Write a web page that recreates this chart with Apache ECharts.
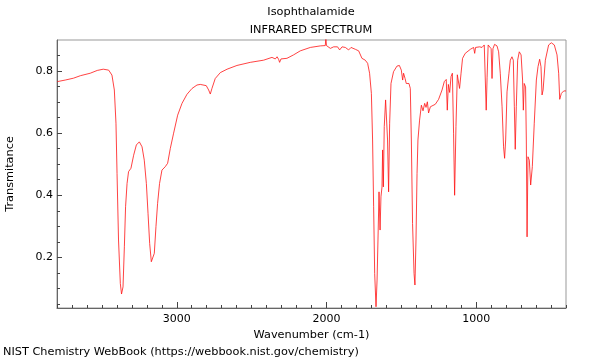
<!DOCTYPE html>
<html>
<head>
<meta charset="utf-8">
<script src="https://cdn.jsdelivr.net/npm/echarts@6/dist/echarts.min.js"></script>
<style>html,body{margin:0;padding:0;background:#fff;}#c{width:600px;height:360px;}</style>
</head>
<body>
<div id="c"></div>
<script>
const titleText = "Isophthalamide";
const subtitleText = "INFRARED SPECTRUM";
const xAxisName = "Wavenumber (cm-1)";
const yAxisName = "Transmitance";
const footerText = "NIST Chemistry WebBook (https://webbook.nist.gov/chemistry)";
const xMajorTicks = [1000, 2000, 3000];
const yMajorTicks = [0.2, 0.4, 0.6, 0.8];
const yMinorTicks = [0.05, 0.1, 0.15, 0.25, 0.3, 0.35, 0.45, 0.5, 0.55, 0.65, 0.7, 0.75, 0.85];

const wavenumbers = [3798,3745,3690,3678,3644,3578,3531,3491,3455,3433,3417,3406,3399,3389,3377,3369,3359,3350,3342,3332,3322,3306,3288,3270,3250,3232,3217,3203,3192,3181,3170,3161,3150,3139,3128,3115,3099,3077,3061,3043,3021,2994,2965,2932,2898,2865,2843,2803,2787,2776,2765,2743,2709,2664,2598,2509,2420,2364,2342,2330,2320,2313,2304,2264,2220,2175,2108,2041,2008,2004,2000,1974,1952,1926,1912,1896,1874,1852,1836,1807,1785,1763,1741,1725,1712,1700,1692,1685,1678,1669,1662,1656,1649,1642,1636,1629,1625,1620,1614,1605,1598,1592,1585,1578,1569,1552,1529,1513,1500,1491,1485,1475,1467,1449,1440,1433,1425,1415,1409,1402,1395,1389,1378,1366,1355,1344,1335,1326,1318,1306,1295,1273,1251,1228,1213,1200,1193,1186,1177,1168,1159,1151,1144,1135,1126,1117,1111,1101,1091,1073,1039,1017,1010,1004,977,961,946,937,933,927,920,907,900,894,888,877,861,850,839,827,817,810,803,794,787,781,772,761,752,745,739,732,723,712,700,690,685,679,670,665,660,654,645,636,625,612,598,587,576,567,560,553,538,516,498,478,460,449,442,431,415,400];
const transmittance = [0.766,0.771,0.777,0.780,0.785,0.793,0.802,0.806,0.803,0.787,0.739,0.632,0.470,0.256,0.116,0.082,0.105,0.234,0.363,0.438,0.476,0.487,0.529,0.562,0.572,0.556,0.513,0.438,0.342,0.245,0.186,0.181,0.213,0.299,0.374,0.438,0.481,0.492,0.503,0.551,0.600,0.658,0.696,0.725,0.744,0.755,0.757,0.753,0.739,0.726,0.744,0.776,0.795,0.806,0.818,0.828,0.835,0.844,0.839,0.846,0.838,0.828,0.839,0.841,0.852,0.865,0.876,0.881,0.882,0.905,0.882,0.873,0.878,0.878,0.868,0.878,0.876,0.868,0.876,0.870,0.865,0.841,0.835,0.825,0.793,0.728,0.578,0.363,0.148,0.041,0.127,0.256,0.411,0.288,0.395,0.427,0.546,0.427,0.621,0.707,0.712,0.578,0.411,0.632,0.760,0.798,0.816,0.818,0.803,0.771,0.793,0.776,0.760,0.760,0.744,0.578,0.309,0.148,0.111,0.256,0.470,0.578,0.642,0.690,0.672,0.696,0.683,0.701,0.665,0.685,0.682,0.693,0.709,0.739,0.766,0.773,0.674,0.757,0.731,0.782,0.793,0.600,0.400,0.621,0.788,0.785,0.744,0.793,0.841,0.857,0.870,0.876,0.857,0.876,0.878,0.876,0.884,0.880,0.674,0.780,0.884,0.889,0.872,0.776,0.872,0.886,0.881,0.862,0.793,0.685,0.556,0.519,0.578,0.733,0.739,0.793,0.835,0.846,0.835,0.685,0.548,0.685,0.835,0.862,0.852,0.771,0.674,0.760,0.749,0.578,0.266,0.524,0.513,0.433,0.492,0.632,0.771,0.814,0.838,0.814,0.723,0.739,0.835,0.884,0.891,0.884,0.852,0.793,0.709,0.728,0.736,0.736];

const FONT = "DejaVu Sans";
const TXT = 11.3;
const TICK = 11;
const spectrum = wavenumbers.map((w, i) => [w, transmittance[i]]);

const chart = echarts.init(document.getElementById('c'), null, {renderer: 'canvas'});
const xCommon = {type: 'value', min: 400, max: 3800, inverse: true, splitLine: {show: false}};
const yCommon = {type: 'value', min: 0.037, max: 0.9, splitLine: {show: false}};
chart.setOption({
  animation: false,
  backgroundColor: '#fff',
  grid: {left: 57, right: 34, top: 40, bottom: 52, containLabel: false, outerBoundsMode: 'none', show: true, borderColor: '#999', borderWidth: 1, backgroundColor: 'transparent'},
  xAxis: [
    Object.assign({}, xCommon, {
      position: 'bottom',
      name: xAxisName, nameLocation: 'middle', nameGap: 18,
      nameTextStyle: {fontFamily: FONT, fontSize: TXT, color: '#000'},
      axisLine: {show: true, lineStyle: {color: '#666', width: 1}},
      axisTick: {show: true, inside: true, length: 6, customValues: xMajorTicks, lineStyle: {color: '#444'}},
      axisLabel: {show: true, customValues: xMajorTicks, margin: 6, fontFamily: FONT, fontSize: TICK, color: '#000', formatter: v => String(Math.round(v))}
    }),
    Object.assign({}, xCommon, {
      position: 'bottom', interval: 100,
      axisLine: {show: false},
      axisTick: {show: true, inside: true, length: 3, lineStyle: {color: '#444'}},
      axisLabel: {show: false}
    })
  ],
  yAxis: [
    Object.assign({}, yCommon, {
      position: 'left',
      name: yAxisName, nameLocation: 'middle', nameGap: 41, nameRotate: 90,
      nameTextStyle: {fontFamily: FONT, fontSize: TXT, color: '#000'},
      axisLine: {show: true, lineStyle: {color: '#666', width: 1}},
      axisTick: {show: true, inside: true, length: 5, customValues: yMajorTicks, lineStyle: {color: '#444'}},
      axisLabel: {show: true, customValues: yMajorTicks, margin: 4, fontFamily: FONT, fontSize: TICK, color: '#000', formatter: v => v.toFixed(1)}
    }),
    Object.assign({}, yCommon, {
      position: 'left',
      axisLine: {show: false},
      axisTick: {show: true, inside: true, length: 3, customValues: yMinorTicks, lineStyle: {color: '#444'}},
      axisLabel: {show: false}
    })
  ],
  graphic: [
    {type: 'text', x: 311, y: 12, style: {text: titleText, fontFamily: FONT, fontSize: TXT, fill: '#000', textAlign: 'center', textVerticalAlign: 'middle'}},
    {type: 'text', x: 311, y: 30, style: {text: subtitleText, fontFamily: FONT, fontSize: TXT, fill: '#000', textAlign: 'center', textVerticalAlign: 'middle'}},
    {type: 'text', x: 3, y: 352, style: {text: footerText, fontFamily: FONT, fontSize: TXT, fill: '#000', textAlign: 'left', textVerticalAlign: 'middle'}}
  ],
  series: [{
    type: 'line', xAxisIndex: 0, yAxisIndex: 0, data: spectrum,
    showSymbol: false, smooth: false, clip: true,
    lineStyle: {color: 'rgba(255,20,20,0.8)', width: 1}
  }]
});
</script>
</body>
</html>
